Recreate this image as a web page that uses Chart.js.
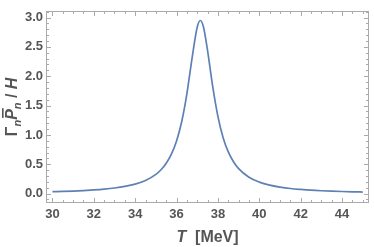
<!DOCTYPE html>
<html>
<head>
<meta charset="utf-8">
<script src="https://cdn.jsdelivr.net/npm/chart.js@4"></script>
<style>
html,body{margin:0;padding:0;background:#fff;}
#wrap{width:374px;height:247px;position:relative;}
</style>
</head>
<body>
<div id="wrap"><canvas id="c" width="374" height="247"></canvas></div>
<script>
const temperatures = [30,30.5,31,31.5,32,32.5,33,33.5,34,34.5,35,35.25,35.5,35.75,36,36.25,36.5,36.75,37,37.15,37.3,37.5,37.75,38,38.25,38.5,38.75,39,39.5,40,40.5,41,41.5,42,42.5,43,43.5,44,44.5,45];
const ratioValues = [0.033,0.038,0.044,0.052,0.063,0.077,0.096,0.123,0.162,0.224,0.328,0.407,0.517,0.672,0.897,1.228,1.704,2.310,2.839,2.950,2.839,2.434,1.817,1.311,0.953,0.710,0.543,0.426,0.279,0.196,0.144,0.111,0.087,0.071,0.058,0.049,0.042,0.036,0.031,0.027];
const xTickLabels = [30,32,34,36,38,40,42,44];
const yTickLabels = [0.0,0.5,1.0,1.5,2.0,2.5,3.0];
const xMinorTicks = [29.5,30.5,31,31.5,32.5,33,33.5,34.5,35,35.5,36.5,37,37.5,38.5,39,39.5,40.5,41,41.5,42.5,43,43.5,44.5,45];
const yMinorTicks = [-0.1,0.1,0.2,0.3,0.4,0.6,0.7,0.8,0.9,1.1,1.2,1.3,1.4,1.6,1.7,1.8,1.9,2.1,2.2,2.3,2.4,2.6,2.7,2.8,2.9,3.1];

const labelColor = '#555555';
const frameColor = '#aaaaaa';

const framePlugin = {
  id: 'frame',
  afterDraw(chart) {
    const {ctx, chartArea: a, scales: {x, y}} = chart;
    ctx.save();
    ctx.strokeStyle = frameColor;
    ctx.lineWidth = 1;
    const L = Math.round(a.left) + 0.5, R = Math.round(a.right) - 0.5;
    const T = Math.round(a.top) + 0.5, B = Math.round(a.bottom) - 0.5;
    ctx.strokeRect(L, T, R - L, B - T);
    ctx.beginPath();
    const xt = (v, len) => {
      const p = Math.round(x.getPixelForValue(v)) + 0.5;
      if (p < L || p > R) return;
      ctx.moveTo(p, B); ctx.lineTo(p, B - len);
      ctx.moveTo(p, T); ctx.lineTo(p, T + len);
    };
    const yt = (v, len) => {
      const p = Math.round(y.getPixelForValue(v)) + 0.5;
      if (p < T || p > B) return;
      ctx.moveTo(L, p); ctx.lineTo(L + len, p);
      ctx.moveTo(R, p); ctx.lineTo(R - len, p);
    };
    xTickLabels.forEach(v => xt(v, 4.5));
    xMinorTicks.forEach(v => xt(v, 2.5));
    yTickLabels.forEach(v => yt(v, 4.5));
    yMinorTicks.forEach(v => yt(v, 2.5));
    ctx.stroke();

    // axis titles
    ctx.fillStyle = labelColor;
    ctx.textBaseline = 'alphabetic';
    const cx = (a.left + a.right) / 2;
    const f1 = 'italic bold 16px "Liberation Sans", Arial, sans-serif';
    const f2 = 'bold 16px "Liberation Sans", Arial, sans-serif';
    ctx.font = f1; const wT = ctx.measureText('T').width;
    ctx.font = f2; const wSp = ctx.measureText('  ').width; const wM = ctx.measureText('[MeV]').width;
    let sx = cx - (wT + wSp + wM) / 2;
    const by = 242;
    ctx.textAlign = 'left';
    ctx.font = f1; ctx.fillText('T', sx, by); sx += wT + wSp;
    ctx.font = f2; ctx.fillText('[MeV]', sx, by);

    // y title rotated
    const parts = [
      {t: 'Γ', f: 'bold 16px "Liberation Sans", Arial, sans-serif', dy: 0},
      {t: 'n', f: 'italic bold 11px "Liberation Sans", Arial, sans-serif', dy: 4},
      {t: 'P', f: 'italic bold 16px "Liberation Sans", Arial, sans-serif', dy: 0, bar: true},
      {t: 'n', f: 'italic bold 11px "Liberation Sans", Arial, sans-serif', dy: 4},
      {t: ' / ', f: 'bold 16px "Liberation Sans", Arial, sans-serif', dy: 0},
      {t: 'H', f: 'italic bold 16px "Liberation Sans", Arial, sans-serif', dy: 0}
    ];
    let total = 0;
    parts.forEach(p => { ctx.font = p.f; p.w = ctx.measureText(p.t).width; total += p.w; });
    const cy = (a.top + a.bottom) / 2;
    ctx.translate(17, cy);
    ctx.rotate(-Math.PI / 2);
    let px = -total / 2;
    parts.forEach(p => {
      ctx.font = p.f;
      ctx.fillText(p.t, px, p.dy);
      if (p.bar) {
        ctx.fillRect(px + 2, -15, p.w - 1, 1.6);
      }
      px += p.w;
    });
    ctx.restore();
  }
};

new Chart(document.getElementById('c'), {
  type: 'line',
  data: {
    datasets: [{
      data: temperatures.map((t, i) => ({x: t, y: ratioValues[i]})),
      borderColor: '#5E81B5',
      borderWidth: 1.7,
      pointRadius: 0,
      cubicInterpolationMode: 'monotone',
      fill: false
    }]
  },
  options: {
    responsive: false,
    animation: false,
    devicePixelRatio: 1,
    layout: {padding: {top: 4, right: 5, left: 0, bottom: 0}},
    plugins: {legend: {display: false}, tooltip: {enabled: false}},
    scales: {
      x: {
        type: 'linear',
        min: 29.69,
        max: 45.3,
        afterBuildTicks: s => { s.ticks = xTickLabels.map(v => ({value: v})); },
        afterFit: s => { s.height = 44; },
        grid: {display: false, drawTicks: false},
        border: {display: false},
        ticks: {
          padding: 4,
          color: labelColor,
          font: {family: '"Liberation Sans", Arial, sans-serif', size: 13, weight: 'bold'},
          maxRotation: 0,
          callback: v => String(v)
        }
      },
      y: {
        type: 'linear',
        min: -0.16,
        max: 3.115,
        afterBuildTicks: s => { s.ticks = yTickLabels.map(v => ({value: v})); },
        afterFit: s => { s.width = 46; },
        grid: {display: false, drawTicks: false},
        border: {display: false},
        ticks: {
          padding: 3,
          color: labelColor,
          font: {family: '"Liberation Sans", Arial, sans-serif', size: 13, weight: 'bold'},
          callback: v => Number(v).toFixed(1)
        }
      }
    }
  },
  plugins: [framePlugin]
});
</script>
</body>
</html>
